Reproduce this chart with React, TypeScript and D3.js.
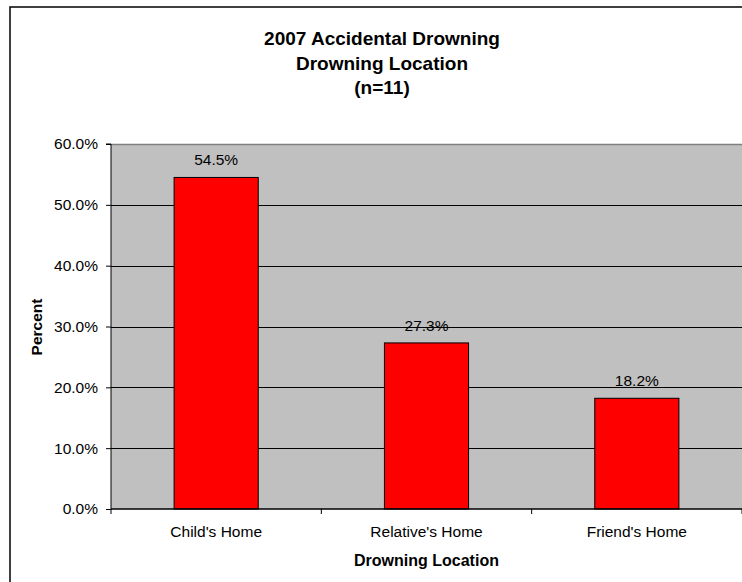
import { useEffect, useRef } from 'react'
import * as d3 from 'd3'

const locations = ["Child's Home", "Relative's Home", "Friend's Home"]
const percents = [54.5, 27.3, 18.2]
const yTicks = [0, 10, 20, 30, 40, 50, 60]
const titleLines = ['2007 Accidental Drowning', 'Drowning Location', '(n=11)']

const App = () => {
	const svgRef = useRef(null)

	useEffect(() => {
		const width = 742
		const height = 582
		const plot = { left: 111, right: 742, top: 144, bottom: 509 }
		const font = '"Liberation Sans", Arial, sans-serif'
		const labelSize = '15.5px'

		const svg = d3.select(svgRef.current)
		svg.selectAll('*').remove()
		svg.attr('width', width).attr('height', height).style('font-family', font)

		// outer chart frame (runs off the right and bottom)
		svg
			.append('rect')
			.attr('x', 10)
			.attr('y', 7)
			.attr('width', 760)
			.attr('height', 600)
			.attr('fill', 'white')
			.attr('stroke', 'black')
			.attr('stroke-width', 1.5)

		const x = d3
			.scaleBand()
			.domain(locations)
			.range([plot.left, plot.right])
			.paddingInner(0.6)
			.paddingOuter(0.3)

		const y = d3.scaleLinear().domain([0, 60]).range([plot.bottom, plot.top])

		// plot area
		svg
			.append('rect')
			.attr('x', plot.left)
			.attr('y', plot.top)
			.attr('width', plot.right - plot.left)
			.attr('height', plot.bottom - plot.top)
			.attr('fill', '#c0c0c0')
		svg
			.append('line')
			.attr('x1', plot.left)
			.attr('x2', plot.right)
			.attr('y1', plot.top + 0.5)
			.attr('y2', plot.top + 0.5)
			.attr('stroke', '#808080')
			.attr('stroke-width', 1.5)

		// gridlines
		svg
			.append('g')
			.selectAll('line')
			.data(yTicks.filter((t) => t > 0 && t < 60))
			.join('line')
			.attr('x1', plot.left)
			.attr('x2', plot.right)
			.attr('y1', (d) => Math.round(y(d)) + 0.5)
			.attr('y2', (d) => Math.round(y(d)) + 0.5)
			.attr('stroke', '#000')
			.attr('stroke-width', 1)

		// bars
		svg
			.append('g')
			.selectAll('rect')
			.data(percents)
			.join('rect')
			.attr('x', (d, i) => x(locations[i]))
			.attr('y', (d) => y(d))
			.attr('width', x.bandwidth())
			.attr('height', (d) => plot.bottom - y(d))
			.attr('fill', '#ff0000')
			.attr('stroke', '#000')
			.attr('stroke-width', 1)

		// value labels
		svg
			.append('g')
			.selectAll('text')
			.data(percents)
			.join('text')
			.attr('x', (d, i) => x(locations[i]) + x.bandwidth() / 2)
			.attr('y', (d) => y(d) - 12)
			.attr('text-anchor', 'middle')
			.style('font-size', labelSize)
			.style('fill', '#000')
			.text((d) => d.toFixed(1) + '%')

		// y axis
		const yAxis = d3
			.axisLeft(y)
			.tickValues(yTicks)
			.tickSize(5)
			.tickPadding(8)
			.tickFormat((d) => d.toFixed(1) + '%')
		const yg = svg.append('g').attr('transform', `translate(${plot.left},0)`).call(yAxis)
		yg.select('.domain').attr('d', `M-5,${plot.top}H0V${plot.bottom}`).attr('stroke', '#000')
		yg.selectAll('text').style('font-size', labelSize).style('font-family', font).style('fill', '#000')

		// x axis with ticks at category boundaries
		svg
			.append('line')
			.attr('x1', plot.left)
			.attr('x2', plot.right)
			.attr('y1', plot.bottom)
			.attr('y2', plot.bottom)
			.attr('stroke', '#000')
			.attr('stroke-width', 1.5)
		const step = x.step()
		svg
			.append('g')
			.selectAll('line')
			.data(d3.range(locations.length + 1))
			.join('line')
			.attr('x1', (i) => plot.left + i * step)
			.attr('x2', (i) => plot.left + i * step)
			.attr('y1', plot.bottom)
			.attr('y2', plot.bottom + 5)
			.attr('stroke', '#000')
		svg
			.append('g')
			.selectAll('text')
			.data(locations)
			.join('text')
			.attr('x', (d) => x(d) + x.bandwidth() / 2)
			.attr('y', 537)
			.attr('text-anchor', 'middle')
			.style('font-size', labelSize)
			.style('fill', '#000')
			.text((d) => d)

		// axis titles
		svg
			.append('text')
			.attr('x', (plot.left + plot.right) / 2)
			.attr('y', 566)
			.attr('text-anchor', 'middle')
			.style('font-size', '16px')
			.style('font-weight', 'bold')
			.text('Drowning Location')

		svg
			.append('text')
			.attr('transform', 'rotate(-90)')
			.attr('x', -327)
			.attr('y', 42)
			.attr('text-anchor', 'middle')
			.style('font-size', labelSize)
			.style('font-weight', 'bold')
			.text('Percent')

		// title
		svg
			.append('g')
			.selectAll('text')
			.data(titleLines)
			.join('text')
			.attr('x', 382)
			.attr('y', (d, i) => 45 + i * 24.5)
			.attr('text-anchor', 'middle')
			.style('font-size', '19px')
			.style('font-weight', 'bold')
			.text((d) => d)
	}, [])

	return <svg ref={svgRef} style={{ position: 'absolute', left: 0, top: 0 }}></svg>
}

export default App
